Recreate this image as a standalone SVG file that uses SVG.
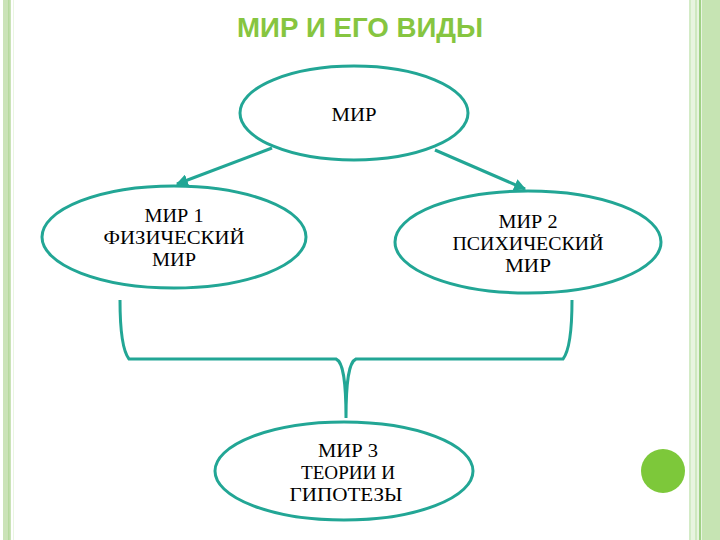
<svg xmlns="http://www.w3.org/2000/svg" width="720" height="540" viewBox="0 0 720 540">
<defs>
<style>
.node ellipse{fill:#fff;stroke:#22a695;stroke-width:3}
.node text{font-family:"Liberation Serif","DejaVu Serif",serif;font-size:18px;fill:#000;text-anchor:middle}
.conn{fill:none;stroke:#22a695;stroke-width:3}
</style>
<marker id="ah" viewBox="0 0 10 10" refX="9" refY="5" markerWidth="4" markerHeight="4" orient="auto" markerUnits="strokeWidth">
<path d="M0,0 L10,5 L0,10 z" fill="#22a695"/>
</marker>
</defs>
<rect width="720" height="540" fill="#fff"/>
<rect x="3" y="0" width="8" height="540" fill="#cbe3b8"/>
<rect x="8" y="0" width="1.5" height="540" fill="#b6d99e"/>
<rect x="13" y="0" width="1" height="540" fill="#eaf6e2"/>
<rect x="689" y="0" width="31" height="540" fill="#e8f4e0"/>
<rect x="689" y="0" width="2" height="540" fill="#d3ebc6"/>
<rect x="695" y="0" width="2" height="540" fill="#cfe8c0"/>
<rect x="699" y="0" width="2" height="540" fill="#9fd185"/>
<rect x="702" y="0" width="18" height="540" fill="#c6e4b3"/>
<circle cx="663" cy="471" r="22" fill="#7dc83a"/>
<text x="360" y="37" font-family="'Liberation Sans','DejaVu Sans',sans-serif" font-size="27" font-weight="bold" fill="#86c540" text-anchor="middle" textLength="246" lengthAdjust="spacingAndGlyphs">МИР И ЕГО ВИДЫ</text>
<g id="connectors">
<line class="conn" x1="272" y1="148" x2="177" y2="184" marker-end="url(#ah)"/>
<line class="conn" x1="435" y1="150" x2="525" y2="189" marker-end="url(#ah)"/>
<path class="conn" d="M120,300 C120,330 122,350 129,359 L336,359 C343,362 346,380 346,418 C346,380 349,362 356,359 L563,359 C570,350 572,330 572,300"/>
</g>
<g id="n0" class="node">
<ellipse cx="354" cy="113" rx="114" ry="47"/>
<text x="354" y="121" textLength="45" lengthAdjust="spacingAndGlyphs">МИР</text>
</g>
<g id="n1" class="node">
<ellipse cx="174" cy="237" rx="132" ry="51"/>
<text x="174" y="222" textLength="59" lengthAdjust="spacingAndGlyphs">МИР 1</text>
<text x="174" y="244" textLength="141" lengthAdjust="spacingAndGlyphs">ФИЗИЧЕСКИЙ</text>
<text x="174" y="266" textLength="44" lengthAdjust="spacingAndGlyphs">МИР</text>
</g>
<g id="n2" class="node">
<ellipse cx="528" cy="242" rx="133" ry="51"/>
<text x="528" y="228" textLength="59" lengthAdjust="spacingAndGlyphs">МИР 2</text>
<text x="528" y="250" textLength="151" lengthAdjust="spacingAndGlyphs">ПСИХИЧЕСКИЙ</text>
<text x="528" y="272" textLength="46" lengthAdjust="spacingAndGlyphs">МИР</text>
</g>
<g id="n3" class="node">
<ellipse cx="344" cy="471" rx="129" ry="49"/>
<text x="348" y="457" textLength="60" lengthAdjust="spacingAndGlyphs">МИР 3</text>
<text x="348" y="479" textLength="94" lengthAdjust="spacingAndGlyphs">ТЕОРИИ И</text>
<text x="346" y="501" textLength="113" lengthAdjust="spacingAndGlyphs">ГИПОТЕЗЫ</text>
</g>
</svg>
